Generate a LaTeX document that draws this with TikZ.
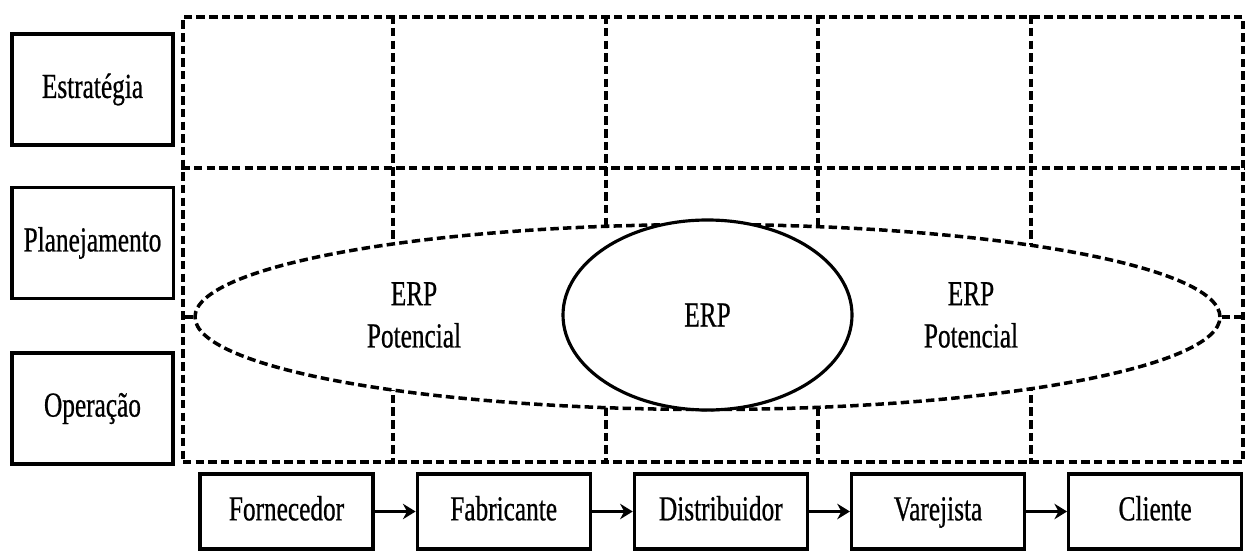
\documentclass[tikz,border=0pt]{standalone}
\usepackage{fontspec}
\setmainfont{Liberation Serif}[FakeStretch=0.72,FakeBold=0.6]
\usetikzlibrary{arrows.meta,positioning,shapes.geometric}

\begin{document}
\begin{tikzpicture}[>={Stealth[length=3.6pt,width=4.4pt]},line width=0.9pt,
 lvl/.style={draw,minimum width=16.1mm,minimum height=11.1mm},
 chain/.style={draw,minimum width=17.3mm,minimum height=7.5mm,text height=1.6ex,text depth=0.5ex},
 grid/.style={dash pattern=on 2.4pt off 1.2pt,line width=1pt}]
\useasboundingbox(0,0)rectangle(12.5,5.51);
\node[lvl](estr)at(0.925,4.615){Estratégia};
\node[lvl](plan)at(0.925,3.08){Planejamento};
\node[lvl](oper)at(0.925,1.425){Operação};
% grid of levels and partners
\node[grid,draw,minimum width=106mm,minimum height=44.5mm](frame)at(7.13,3.115){};
\draw[grid](frame.west|-0,3.83)--(frame.east|-0,3.83);
\foreach \x in {3.93,6.06,8.18,10.31}\draw[grid](\x,0|-frame.north)--(\x,0|-frame.south);
\node[grid,ellipse,draw,fill=white,minimum width=102.5mm,minimum height=18.5mm](pot)at(7.075,2.34){};
\draw[grid](pot.west)--(pot.west-|frame.west);\draw[grid](pot.east)--(pot.east-|frame.east);
\node[ellipse,draw,fill=white,minimum width=28.9mm,minimum height=19mm](erp)at(7.075,2.36){ERP};
\node[align=center](potl)at(4.14,2.36){ERP\\Potencial};
\node[align=center](potr)at(9.71,2.36){ERP\\Potencial};
% supply chain
\node[chain](forn)at(2.865,0.395){Fornecedor};
\node[chain,right=4.1mm of forn](fabr){Fabricante};
\node[chain,right=4.1mm of fabr](dist){Distribuidor};
\node[chain,right=4.1mm of dist](vare){Varejista};
\node[chain,right=4.1mm of vare](clie){Cliente};
\draw[->](forn)--(fabr);\draw[->](fabr)--(dist);
\draw[->](dist)--(vare);\draw[->](vare)--(clie);
\end{tikzpicture}
\end{document}
